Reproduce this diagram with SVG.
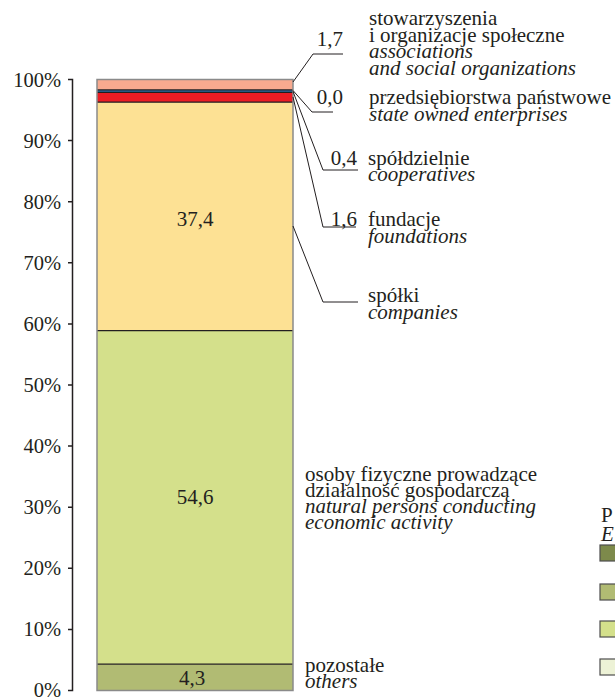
<svg xmlns="http://www.w3.org/2000/svg" width="615" height="698" viewBox="0 0 615 698">
<style>
text { font-family: "Liberation Serif", "Times New Roman", serif; font-size: 21px; fill: #231f20; }
.it { font-style: italic; }
.ax { text-anchor: end; font-size: 20.5px; }
.num { text-anchor: middle; }
.lead { fill: none; stroke: #231f20; stroke-width: 1; }
.sep { stroke: #231f20; stroke-width: 1.2; }
.tick { stroke: #231f20; stroke-width: 1.5; fill: none; }
.out { fill: none; stroke: #8a8a8a; stroke-width: 1.5; }
.lg { stroke: #4d4d4d; stroke-width: 1.2; }
</style>
<rect width="615" height="698" fill="#ffffff"/>
<g id="axis">
<path class="tick" d="M68,79.5 H72.5 V690.5 H68 M68,140.6 H72.5 M68,201.7 H72.5 M68,262.8 H72.5 M68,323.9 H72.5 M68,385 H72.5 M68,446.1 H72.5 M68,507.2 H72.5 M68,568.3 H72.5 M68,629.4 H72.5"/>
<text class="ax" x="61" y="87">100%</text>
<text class="ax" x="61" y="148">90%</text>
<text class="ax" x="61" y="209">80%</text>
<text class="ax" x="61" y="270">70%</text>
<text class="ax" x="61" y="331">60%</text>
<text class="ax" x="61" y="392">50%</text>
<text class="ax" x="61" y="453">40%</text>
<text class="ax" x="61" y="514">30%</text>
<text class="ax" x="61" y="575">20%</text>
<text class="ax" x="61" y="636">10%</text>
<text class="ax" x="61" y="697">0%</text>
</g>
<g id="seg-others">
<rect x="97" y="664.2" width="196" height="26.3" fill="#b1bb73"/>
<text class="num" x="192" y="685">4,3</text>
<text x="305" y="672">pozostałe</text>
<text class="it" x="305" y="688">others</text>
</g>
<g id="seg-natural-persons">
<rect x="97" y="330.6" width="196" height="333.6" fill="#d4e08b"/>
<text class="num" x="195" y="504">54,6</text>
<text x="305" y="481">osoby fizyczne prowadzące</text>
<text x="305" y="497">działalność gospodarczą</text>
<text class="it" x="305" y="513">natural persons conducting</text>
<text class="it" x="305" y="529">economic activity</text>
</g>
<g id="seg-companies">
<rect x="97" y="102.1" width="196" height="228.5" fill="#fde194"/>
<text class="num" x="195" y="226">37,4</text>
<text x="368" y="302">spółki</text>
<text class="it" x="368" y="319">companies</text>
</g>
<g id="seg-foundations">
<rect x="97" y="92.3" width="196" height="9.8" fill="#ed1c24"/>
<text class="ax" x="357" y="226" style="font-size:21px">1,6</text>
<text x="368" y="226">fundacje</text>
<text class="it" x="368" y="243">foundations</text>
</g>
<g id="seg-cooperatives">
<rect x="97" y="89.9" width="196" height="2.4" fill="#2e6da4"/>
<text class="ax" x="357" y="165" style="font-size:21px">0,4</text>
<text x="368" y="165">spółdzielnie</text>
<text class="it" x="368" y="181">cooperatives</text>
</g>
<g id="seg-state-owned">
<text class="ax" x="343" y="104" style="font-size:21px">0,0</text>
<text x="369" y="104">przedsiębiorstwa państwowe</text>
<text class="it" x="369" y="121">state owned enterprises</text>
</g>
<g id="seg-associations">
<rect x="97" y="79.5" width="196" height="10.4" fill="#f8aa8f"/>
<text class="ax" x="343" y="46" style="font-size:21px">1,7</text>
<text x="369" y="25">stowarzyszenia</text>
<text x="369" y="42">i organizacje społeczne</text>
<text class="it" x="369" y="58">associations</text>
<text class="it" x="369" y="75">and social organizations</text>
</g>
<g id="bar-lines">
<path class="sep" d="M97,664.2 H293 M97,330.6 H293 M97,102.1 H293 M97,92.3 H293 M97,89.9 H293"/>
<rect class="out" x="97" y="79.5" width="196" height="611"/>
</g>
<g id="connectors">
<polyline class="lead" points="293,82 313,54 343,54"/>
<polyline class="lead" points="293,90.5 312,112 333,112"/>
<polyline class="lead" points="293,91.5 323,170 358,170"/>
<polyline class="lead" points="293,97 323,227 356,227"/>
<polyline class="lead" points="293,226 323,302 358,302"/>
</g>
<g id="legend">
<text x="601" y="522">P</text>
<text class="it" x="601" y="541">E</text>
<rect class="lg" x="600" y="545" width="17" height="16" fill="#7d8a4b"/>
<rect class="lg" x="600" y="584" width="17" height="16" fill="#b1bb73"/>
<rect class="lg" x="600" y="621" width="17" height="16" fill="#d4e08b"/>
<rect class="lg" x="600" y="659" width="17" height="16" fill="#edf2d6"/>
</g>
</svg>
